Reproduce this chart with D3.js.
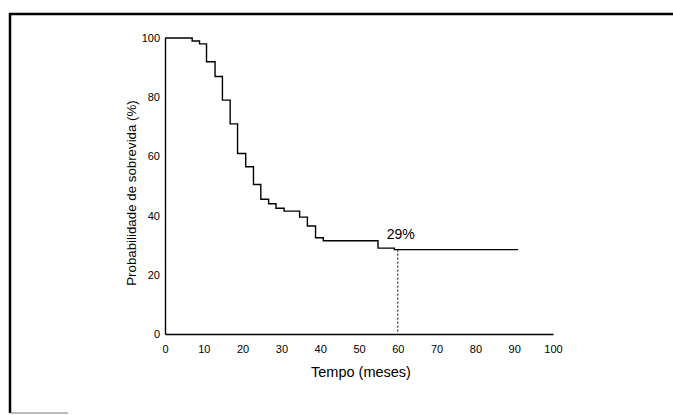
<!DOCTYPE html>
<meta charset="utf-8">
<script src="https://d3js.org/d3.v7.min.js"></script>
<style>
    body { margin: 0; background: #fff; }
    svg text { font-family: "Liberation Sans", Arial, sans-serif; fill: #000; }
</style>
<div id="chart"></div>
<script>

    // Kaplan-Meier steps
    const months = [0, 7, 8.9, 10.7, 12.9, 14.8, 16.8, 18.7, 20.8, 22.8, 24.7, 26.7, 28.6, 30.7, 34.7, 36.7, 38.8, 40.8, 54.9, 59.1, 91];
    const survival = [100, 99, 98, 92, 87, 79, 71, 61, 56.5, 50.5, 45.5, 44, 42.5, 41.5, 39.5, 36.5, 32.5, 31.5, 29, 28.5, 28.5];
    const xTicks = [0, 10, 20, 30, 40, 50, 60, 70, 80, 90, 100];
    const yTicks = [0, 20, 40, 60, 80, 100];
    const markMonth = 60;
    const markLabel = "29%";

    const W = 673, H = 415;

    const svg = d3.select("#chart")
        .append("svg")
        .attr("width", W)
        .attr("height", H);

    // page frame from the scan
    svg.append("line")
        .attr("x1", 9).attr("x2", W).attr("y1", 14).attr("y2", 14)
        .attr("stroke", "#000").attr("stroke-width", 2.5);
    svg.append("line")
        .attr("x1", 10).attr("x2", 10).attr("y1", 13).attr("y2", 413)
        .attr("stroke", "#000").attr("stroke-width", 2.5);
    svg.append("line")
        .attr("x1", 10).attr("x2", 68).attr("y1", 413).attr("y2", 413)
        .attr("stroke", "#777").attr("stroke-width", 1);

    const x = d3.scaleLinear().domain([0, 100]).range([165, 553]);
    const y = d3.scaleLinear().domain([0, 100]).range([334, 38]);

    // X axis
    svg.append("g")
        .attr("transform", `translate(0, ${y(0)})`)
        .call(d3.axisBottom(x).tickValues(xTicks).tickSize(0).tickPadding(11))
        .call(g => g.select(".domain").attr("stroke", "#000").attr("stroke-width", 1.4))
        .selectAll("text")
        .style("font-size", "11px");

    // Y axis
    svg.append("g")
        .attr("transform", `translate(${x(0)}, 0)`)
        .call(d3.axisLeft(y).tickValues(yTicks).tickSize(0).tickPadding(5))
        .call(g => g.select(".domain").attr("stroke", "#000").attr("stroke-width", 1.4))
        .selectAll("text")
        .style("font-size", "11px");

    // survival curve
    const pts = months.map((m, i) => [m, survival[i]]);
    const line = d3.line()
        .x(d => x(d[0]))
        .y(d => y(d[1]))
        .curve(d3.curveStepAfter);

    svg.append("path")
        .datum(pts)
        .attr("d", line)
        .attr("fill", "none")
        .attr("stroke", "#000")
        .attr("stroke-width", 1.4);

    // dotted marker at 60 months
    const atMark = survival[d3.bisectRight(months, markMonth) - 1];
    svg.append("line")
        .attr("x1", x(markMonth)).attr("x2", x(markMonth))
        .attr("y1", y(atMark)).attr("y2", y(0))
        .attr("stroke", "#000")
        .attr("stroke-width", 1)
        .attr("stroke-dasharray", "2,2");

    svg.append("text")
        .attr("x", x(markMonth) + 3)
        .attr("y", y(atMark) - 11)
        .attr("text-anchor", "middle")
        .style("font-size", "14px")
        .text(markLabel);

    // axis titles
    svg.append("text")
        .attr("x", 361)
        .attr("y", 377)
        .attr("text-anchor", "middle")
        .style("font-size", "14.5px")
        .text("Tempo (meses)");

    svg.append("text")
        .attr("transform", "translate(136, 193) rotate(-90)")
        .attr("text-anchor", "middle")
        .style("font-size", "13.3px")
        .text("Probabilidade de sobrevida (%)");
</script>
